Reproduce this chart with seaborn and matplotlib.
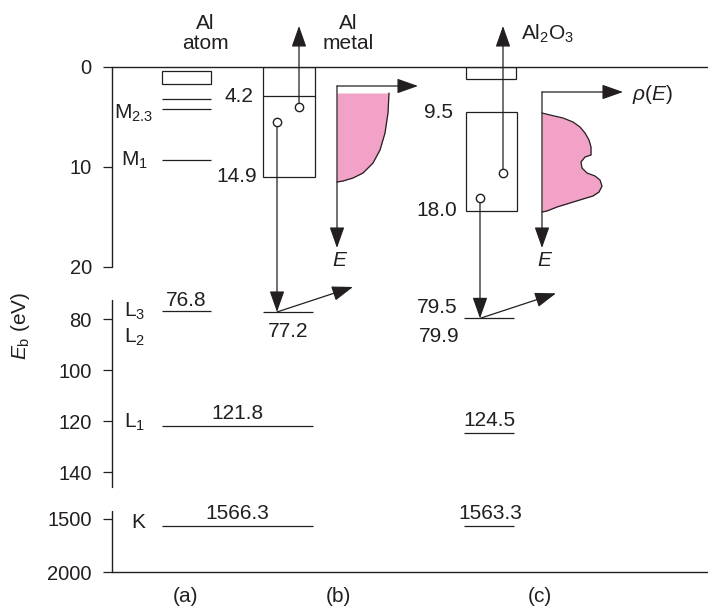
import numpy as np
import matplotlib
matplotlib.use("Agg")
import matplotlib.pyplot as plt
import seaborn as sns
from matplotlib.patches import Rectangle

# broken energy axis: binding energy -> drawn distance below the 0 line
axis_E = [-1000, 0, 20, 72.5, 146, 1425, 2000, 10000]
axis_d = [-10000, 0, 200, 233, 420.4, 444, 505, 1353]
y_ticks = [0, 10, 20, 80, 100, 120, 140, 1500, 2000]
spine_parts = [(0, 20), (72.5, 146), (1425, 2000)]

columns = ["(a)", "(b)", "(c)"]
column_x = [0.73, 2.26, 4.28]
headers = ["Al\natom", "Al\nmetal", "Al$_2$O$_3$"]
header_x = [0.93, 2.36, 4.36]

# (a) Al atom
atom_box = [0.4, 1.7]
atom_M = [3.2, 4.2, 9.3]
atom_L3 = 76.8
atom_L1 = 121.8
atom_K = 1566.3
shell_names = ["M$_{\\mathrm{2.3}}$", "M$_{\\mathrm{1}}$", "L$_{\\mathrm{3}}$",
               "L$_{\\mathrm{2}}$", "L$_{\\mathrm{1}}$", "K"]
shell_name_E = [4.6, 9.3, 76.8, 87.0, 120.4, 1538]
shell_name_x = [0.41, 0.36, 0.33, 0.33, 0.33, 0.33]

# (b) Al metal
metal_band = [0.0, 11.0]
metal_fermi = 2.9
metal_band_labels = ["4.2", "14.9"]
metal_L = 77.2
metal_dots_x = [1.87, 1.65]
metal_dots_E = [4.0, 5.5]
metal_dos_E = [2.6, 4.6, 6.6, 8.3, 9.6, 10.6, 11.1, 11.4, 11.5]
metal_dos_rho = [0.52, 0.51, 0.48, 0.43, 0.36, 0.26, 0.16, 0.06, 0.0]

# (c) Al2O3
oxide_top = [0.0, 1.2]
oxide_band = [4.5, 14.4]
oxide_band_labels = ["9.5", "18.0"]
oxide_L = 79.7
oxide_L_labels = ["79.5", "79.9"]
oxide_L1 = 124.5
oxide_K = 1563.3
oxide_dots_x = [3.91, 3.68]
oxide_dots_E = [10.6, 13.1]
oxide_dos_E = [4.6, 4.8, 5.1, 5.5, 6.0, 6.6, 7.3, 8.0, 8.8, 9.0, 9.5, 10.1, 10.6,
               10.9, 11.3, 11.9, 12.5, 12.9, 13.2, 13.6, 14.0, 14.4, 14.5]
oxide_dos_rho = [0.0, 0.08, 0.21, 0.31, 0.38, 0.43, 0.47, 0.49, 0.49, 0.43, 0.39, 0.40, 0.45,
                 0.53, 0.58, 0.60, 0.57, 0.51, 0.41, 0.28, 0.15, 0.05, 0.0]

escape_E = -4.1
dos_x = [2.25, 4.30]
dos_top = [1.9, 2.5]
dos_bottom = 18.1
dos_len = 0.81

ink = "#231f20"
pink = "#f2a2c6"

sns.set_theme(style="white")
plt.rcParams["font.family"] = ["Liberation Sans", "DejaVu Sans"]
plt.rcParams["mathtext.fontset"] = "custom"
plt.rcParams["mathtext.rm"] = "Liberation Sans"
plt.rcParams["mathtext.it"] = "Liberation Sans:italic"
plt.rcParams["text.color"] = ink

fig = plt.figure(figsize=(7.08, 6.11), dpi=100)
ax = fig.add_axes([112 / 708, 39 / 611, 596 / 708, 505 / 611])


def fwd(v):
    return np.interp(v, axis_E, axis_d)


def inv(d):
    return np.interp(d, axis_d, axis_E)


ax.set_yscale("function", functions=(fwd, inv))
ax.set_ylim(2000, 0)
ax.set_xlim(0, 5.96)
ax.set_yticks(y_ticks)
ax.set_yticklabels([str(t) for t in y_ticks], fontsize=14.5)
ax.yaxis.set_minor_locator(matplotlib.ticker.NullLocator())
ax.set_xticks([])
ax.tick_params(axis="y", left=True, length=6.5, width=0.9, color=ink, pad=8, labelcolor=ink)
for s in ["left", "right"]:
    ax.spines[s].set_visible(False)
for s in ["top", "bottom"]:
    ax.spines[s].set_color(ink)
    ax.spines[s].set_linewidth(1.0)
for a, b in spine_parts:
    ax.plot([0, 0], [a, b], color=ink, lw=1.0, transform=ax.get_yaxis_transform(), clip_on=False)
ax.set_ylabel("$E_{\\mathrm{b}}$ (eV)", fontsize=15, color=ink)
ax.yaxis.set_label_coords(-0.134, 0.487)

lw = 0.9
hs = "-|>,head_length=0.65,head_width=0.23"


def arrow(x0, y0, x1, y1):
    ax.annotate("", xy=(x1, y1), xytext=(x0, y0), annotation_clip=False,
                arrowprops=dict(arrowstyle=hs, mutation_scale=20, lw=lw, color=ink,
                                shrinkA=0, shrinkB=0))


def kick(x0, y0):
    # diagonal arrow from the core level up to the right
    ax.annotate("", xy=(x0, y0), xytext=(54.7, 18), textcoords="offset points",
                annotation_clip=False,
                arrowprops=dict(arrowstyle="<|-,head_length=0.65,head_width=0.23",
                                mutation_scale=20, lw=lw, color=ink, shrinkA=0, shrinkB=0))


def above(txt, x, y, dy=5):
    ax.annotate(txt, xy=(x, y), xytext=(0, dy), textcoords="offset points",
                ha="center", va="baseline", fontsize=15)


# headers and column letters
for h, x in zip(headers, header_x):
    ax.text(x, -3.35, h, ha="center", va="center", fontsize=15, linespacing=1.1)
for c, x in zip(columns, column_x):
    ax.annotate(c, xy=(x, 2000), xytext=(0, -18), textcoords="offset points",
                ha="center", va="center", fontsize=15)

# (a) atom levels
ax.add_patch(Rectangle((0.50, atom_box[0]), 0.49, atom_box[1] - atom_box[0],
                       fill=False, ec=ink, lw=lw))
ax.hlines(atom_M, 0.50, 0.99, color=ink, lw=lw)
ax.hlines(atom_L3, 0.50, 0.99, color=ink, lw=lw)
above("76.8", 0.74, atom_L3, 3.6)
ax.hlines([atom_L1, atom_K], 0.50, 2.01, color=ink, lw=lw)
above("121.8", 1.25, atom_L1, 5)
above("1566.3", 1.25, atom_K, 5)
for n, e, x in zip(shell_names, shell_name_E, shell_name_x):
    ax.text(x, e, n, ha="right", va="center", fontsize=15)

# (b) metal
ax.add_patch(Rectangle((1.51, metal_band[0]), 0.52, metal_band[1] - metal_band[0],
                       fill=False, ec=ink, lw=lw))
ax.hlines(metal_fermi, 1.51, 2.03, color=ink, lw=lw)
ax.text(1.41, metal_fermi, metal_band_labels[0], ha="right", va="center", fontsize=15)
ax.text(1.45, metal_band[1], metal_band_labels[1], ha="right", va="center", fontsize=15)
ax.hlines(metal_L, 1.51, 2.01, color=ink, lw=lw)
ax.annotate("77.2", xy=(1.76, metal_L), xytext=(0, -7), textcoords="offset points",
            ha="center", va="top", fontsize=15)
arrow(metal_dots_x[0], metal_dots_E[0], metal_dots_x[0], escape_E)
arrow(metal_dots_x[1], metal_dots_E[1], metal_dots_x[1], metal_L)
kick(metal_dots_x[1], metal_L)

# (c) oxide
ax.add_patch(Rectangle((3.54, oxide_top[0]), 0.50, oxide_top[1] - oxide_top[0],
                       fill=False, ec=ink, lw=lw))
ax.add_patch(Rectangle((3.54, oxide_band[0]), 0.51, oxide_band[1] - oxide_band[0],
                       fill=False, ec=ink, lw=lw))
ax.text(3.41, oxide_band[0], oxide_band_labels[0], ha="right", va="center", fontsize=15)
ax.text(3.45, oxide_band[1], oxide_band_labels[1], ha="right", va="center", fontsize=15)
ax.hlines([oxide_L, oxide_L1, oxide_K], 3.52, 4.02, color=ink, lw=lw)
ax.annotate(oxide_L_labels[0], xy=(3.46, oxide_L), xytext=(0, 3.6), textcoords="offset points",
            ha="right", va="baseline", fontsize=15)
ax.annotate(oxide_L_labels[1], xy=(3.47, oxide_L), xytext=(0, -6.5), textcoords="offset points",
            ha="right", va="top", fontsize=15)
above("124.5", 3.77, oxide_L1, 4.5)
above("1563.3", 3.78, oxide_K, 5)
arrow(oxide_dots_x[0], oxide_dots_E[0], oxide_dots_x[0], escape_E)
arrow(oxide_dots_x[1], oxide_dots_E[1], oxide_dots_x[1], oxide_L)
kick(oxide_dots_x[1], oxide_L)

# electrons
sns.scatterplot(x=metal_dots_x + oxide_dots_x, y=metal_dots_E + oxide_dots_E, ax=ax,
                s=36, color="white", edgecolor=ink, linewidth=1.0, zorder=6, legend=False)

# density of states sketches
for x0, top, E, rho in [(dos_x[0], dos_top[0], metal_dos_E, metal_dos_rho),
                        (dos_x[1], dos_top[1], oxide_dos_E, oxide_dos_rho)]:
    xs = [x0 + r for r in rho]
    ax.fill_betweenx(E, x0, xs, color=pink, lw=0, zorder=1)
    sns.lineplot(x=xs, y=E, ax=ax, sort=False, estimator=None, color=ink, lw=0.9, zorder=2)
    arrow(x0, top, x0, dos_bottom)
    arrow(x0, top, x0 + dos_len, top)
    ax.text(x0 + 0.03, 19.3, "$E$", ha="center", va="center", fontsize=15)
ax.text(5.20, 2.8, "$\\rho(E)$", ha="left", va="center", fontsize=15)

fig.savefig("out.png", dpi=100)
